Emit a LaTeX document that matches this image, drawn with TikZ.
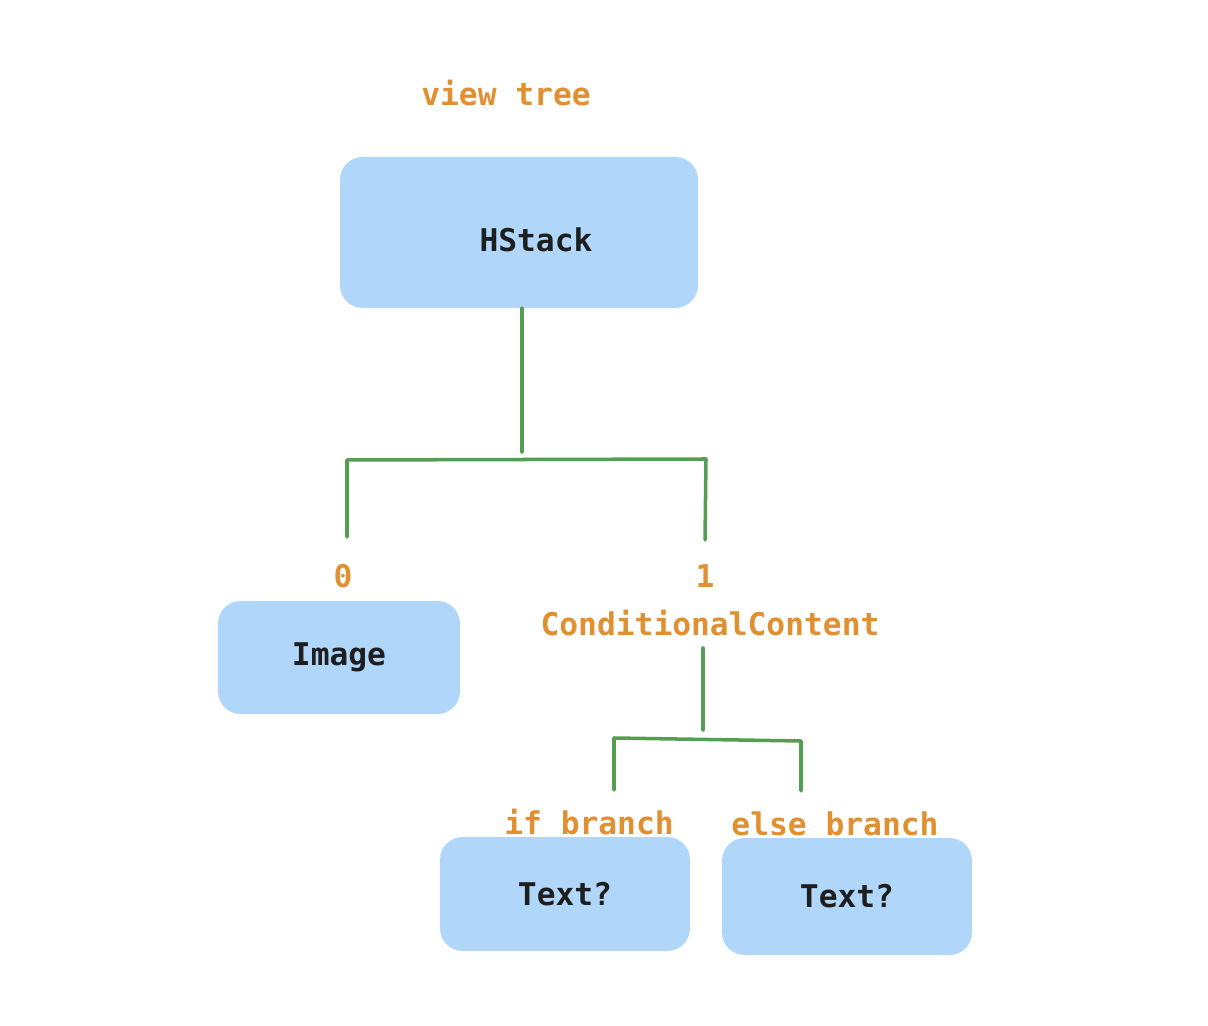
\documentclass[tikz,border=0pt]{standalone}
\usepackage{fontspec}
\setmonofont{DejaVu Sans Mono}
\definecolor{boxblue}{RGB}{176,215,250}
\definecolor{lblorange}{RGB}{224,144,48}
\definecolor{linegreen}{RGB}{84,158,84}
\definecolor{boxtext}{RGB}{30,30,30}
\begin{document}
\begin{tikzpicture}[line cap=round,line join=round,x=0.02cm,y=-0.02cm]
            \tikzset{viewbox/.style={fill=boxblue,rounded corners=0.45cm,inner sep=0pt,text=boxtext,font=\ttfamily\bfseries\fontsize{17.8}{21}\selectfont},
                     lbl/.style={text=lblorange,inner sep=1pt,font=\ttfamily\bfseries\fontsize{17.8}{21}\selectfont},
                     branch/.style={draw=linegreen,line width=2.pt}}
            \useasboundingbox (0,0) rectangle (1208,1026);
            \node[lbl] (title) at (506,93) {view tree};
            \node[viewbox,minimum width=7.16cm,minimum height=3.02cm,text height=0.76cm,text depth=0pt] (hstack) at (519,232.5) {\hspace*{0.68cm}HStack};
            \node[lbl] (idx0) at (343,576) {0};
            \node[lbl] (idx1) at (705,576) {1};
            \node[lbl] (cond) at (710,623) {ConditionalContent};
            \node[viewbox,minimum width=4.84cm,minimum height=2.26cm] (image) at (339,657.5) {Image};
            \node[lbl] (ifbr) at (589,822) {if branch};
            \node[lbl] (elsebr) at (835,824) {else branch};
            \node[viewbox,minimum width=5.0cm,minimum height=2.28cm] (textif) at (565,894) {Text?};
            \node[viewbox,minimum width=5.0cm,minimum height=2.34cm] (textelse) at (847,896.5) {Text?};
            \coordinate (hs-j) at (522,452);
            \coordinate (img-j) at (347,460);
            \coordinate (img-t) at (347,537);
            \coordinate (cc-j) at (706,459);
            \coordinate (cc-t) at (705,540);
            \coordinate (cond-top) at (703,648);
            \coordinate (cond-j) at (703,730);
            \coordinate (if-j) at (614,738);
            \coordinate (if-t) at (614,790);
            \coordinate (else-j) at (801,741);
            \coordinate (else-t) at (801,791);
            \draw [branch] (hstack.south -| hs-j)-- (hs-j);
            \draw [branch] (img-t)-- (img-j)-- (cc-j)-- (cc-t);
            \draw [branch] (cond-top)-- (cond-j);
            \draw [branch] (if-t)-- (if-j)-- (else-j)-- (else-t);
        \end{tikzpicture}
\end{document}
